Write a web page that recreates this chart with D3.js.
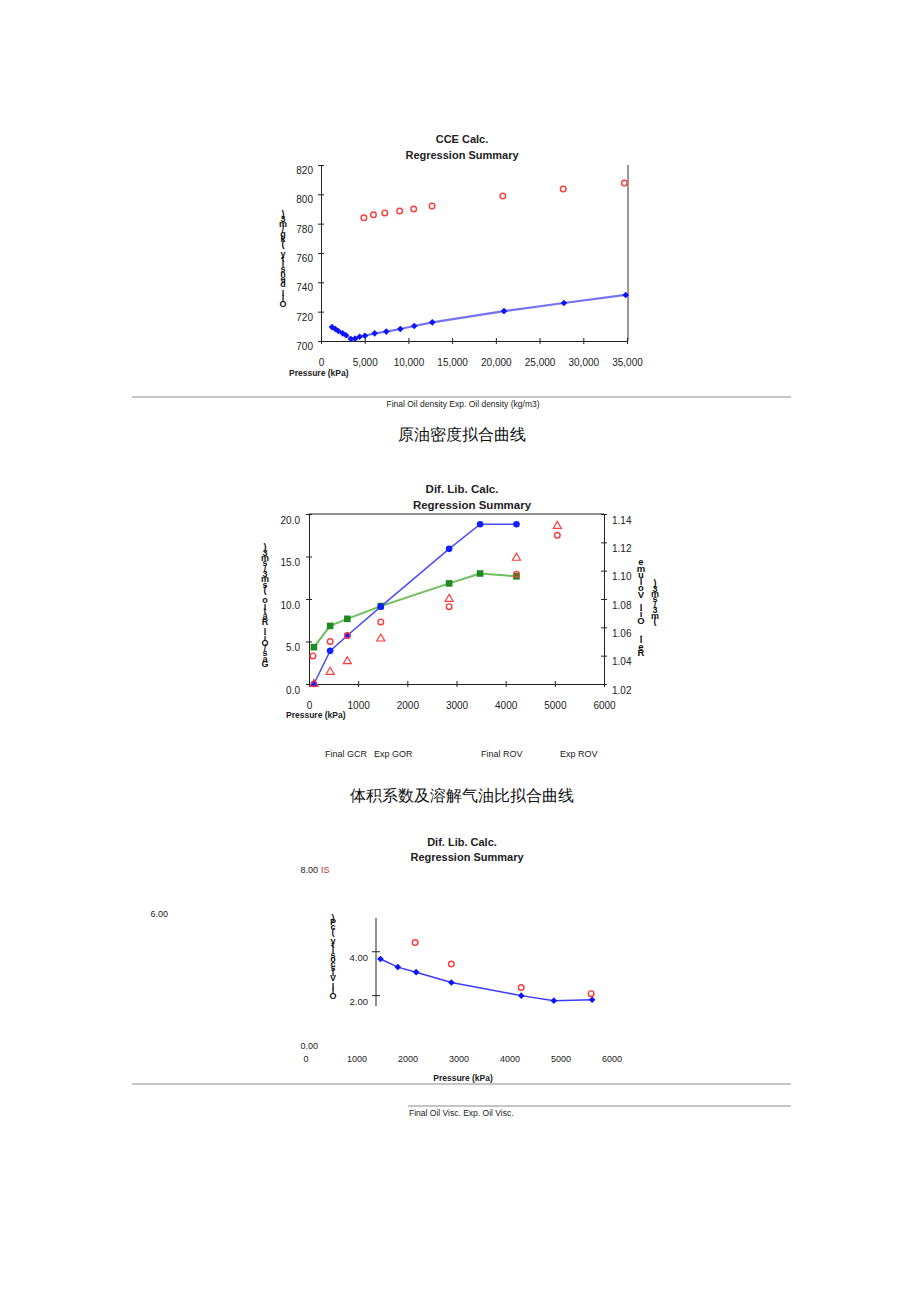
<!DOCTYPE html>
<html><head><meta charset="utf-8">
<script src="https://cdn.jsdelivr.net/npm/d3@7"></script>
<style>
body{margin:0;background:#fff}
svg{display:block}
text{font-family:"Liberation Sans",Arial,sans-serif;fill:#222}
</style>
</head><body>
<svg id="c" width="920" height="1302"></svg>
<script>
// ---------- DATA ----------
// Chart 1: CCE oil density
const cceCalcP = [1260,1640,1980,2480,2860,3430,3890,4420,5030,6140,7470,9070,10670,12730,20930,27790,34850];
const cceCalcD = [709.5,708.2,706.8,705.2,703.9,701.4,701.6,702.9,703.6,705.2,706.4,708.2,710.2,712.7,720.4,725.9,731.4];
const cceExpP = [4900,6000,7300,9000,10600,12700,20800,27700,34700];
const cceExpD = [784,786,787.3,788.6,790,792,798.8,803.6,807.7];
const cceXTicks = [0,5000,10000,15000,20000,25000,30000,35000];
const cceYTicks = [700,720,740,760,780,800,820];

// Chart 2: Dif. Lib. GOR / ROV
const difP = [100,430,780,1460,2850,3480,4220];
const finalGOR = [0,3.9,5.7,9.1,15.9,18.8,18.8];
const finalROV = [1.046,1.061,1.066,1.075,1.091,1.098,1.096];
const expGORP = [80,430,780,1460,2850,4220,5050];
const expGOR = [3.3,5.0,5.7,7.3,9.1,12.9,17.5];
const expROVP = [100,430,780,1460,2850,4220,5050];
const expROV = [1.02,1.0285,1.036,1.052,1.080,1.109,1.1315];
const difXTicks = [0,1000,2000,3000,4000,5000,6000];
const gorTicks = [0,5,10,15,20];
const rovTicks = [1.02,1.04,1.06,1.08,1.10,1.12,1.14];

// Chart 3: oil viscosity
const viscP = [1460,1800,2160,2850,4220,4860,5610];
const finalVisc = [3.67,3.30,3.07,2.60,2.0,1.77,1.81];
const expViscP = [2140,2850,4220,5590];
const expVisc = [4.42,3.44,2.37,2.09];
const viscXTicks = [0,1000,2000,3000,4000,5000,6000];
const viscAxisTicks = [2,4];

// ---------- HELPERS ----------
const svg = d3.select("#c");
const F = '"Liberation Sans",Arial,sans-serif';

function txt(x, y, s, size, opts = {}) {
  return svg.append("text").attr("x", x).attr("y", y).text(s)
    .attr("font-size", size)
    .attr("font-weight", opts.bold ? "bold" : null)
    .attr("text-anchor", opts.anchor || "start")
    .style("fill", opts.fill || "#222");
}
// upright stacked glyphs, reading bottom to top (as in the reference)
function vlabel(x, yBottom, s, step, size) {
  const chars = Array.from(s);
  chars.forEach((c, i) => {
    svg.append("text").attr("x", x).attr("y", yBottom - i * step).text(c)
      .attr("font-size", size).attr("font-weight", "bold")
      .attr("text-anchor", "middle").style("fill", "#111");
  });
}
function hline(x1, x2, y, color) {
  svg.append("line").attr("x1", x1).attr("x2", x2).attr("y1", y).attr("y2", y)
    .attr("stroke", color || "#888").attr("stroke-width", 1);
}
function vline(x, y1, y2, color) {
  svg.append("line").attr("x1", x).attr("x2", x).attr("y1", y1).attr("y2", y2)
    .attr("stroke", color || "#222").attr("stroke-width", 1);
}
function styleAxis(g, orient, size, dyText) {
  g.selectAll("path.domain").attr("stroke", "#222");
  g.selectAll(".tick line").attr("stroke", "#222");
  if (orient === "left" || orient === "right") {
    g.selectAll(".tick line").attr("x1", -3).attr("x2", 3);
  } else {
    g.selectAll(".tick line").attr("y1", -3).attr("y2", 3);
  }
  g.selectAll(".tick text").attr("font-size", size).attr("font-family", F).style("fill", "#222");
  if (dyText !== undefined) g.selectAll(".tick text").attr("dy", dyText);
}
function diamonds(data, x, y, color, size) {
  svg.append("g").selectAll("path").data(data).join("path")
    .attr("d", d3.symbol(d3.symbolSquare, size)())
    .attr("transform", d => `translate(${x(d[0])},${y(d[1])}) rotate(45)`)
    .attr("fill", color);
}
function openCircles(data, x, y, color) {
  svg.append("g").selectAll("circle").data(data).join("circle")
    .attr("cx", d => x(d[0])).attr("cy", d => y(d[1])).attr("r", 2.8)
    .attr("fill", "none").attr("stroke", color).attr("stroke-width", 1.4);
}
function linePath(data, x, y, color, w, op) {
  svg.append("path").datum(data)
    .attr("d", d3.line().x(d => x(d[0])).y(d => y(d[1])))
    .attr("fill", "none").attr("stroke", color).attr("stroke-width", w)
    .attr("stroke-opacity", op || 1);
}
const zip = (a, b) => a.map((v, i) => [v, b[i]]);

// ---------- CHART 1 ----------
{
  const x = d3.scaleLinear([0, 35000], [321, 627]);
  const y = d3.scaleLinear([700, 820], [341, 165]);
  txt(462, 143, "CCE Calc.", 11, {bold: true, anchor: "middle"});
  txt(462, 159, "Regression Summary", 11, {bold: true, anchor: "middle"});

  const gx = svg.append("g").attr("transform", "translate(0,341)")
    .call(d3.axisBottom(x).tickValues(cceXTicks).tickFormat(d3.format(",")).tickSize(3).tickSizeOuter(0).tickPadding(15));
  styleAxis(gx, "bottom", 10);
  const gy = svg.append("g").attr("transform", "translate(321,0)")
    .call(d3.axisLeft(y).tickValues(cceYTicks).tickSize(3).tickSizeOuter(0).tickPadding(5));
  styleAxis(gy, "left", 10, "0.86em");
  vline(628, 165, 341, "#333");

  vlabel(283, 307, "Oil density (kg/m3)", 5, 9);
  txt(289, 376, "Pressure (kPa)", 8.5, {bold: true});

  linePath(zip(cceCalcP, cceCalcD), x, y, "#5b5bf0", 2.2, 0.85);
  diamonds(zip(cceCalcP, cceCalcD), x, y, "#0a14ff", 22);
  openCircles(zip(cceExpP, cceExpD), x, y, "#ff3a3a");

  hline(132, 791, 397, "#8a8a8a");
  txt(463, 407, "Final Oil density Exp. Oil density (kg/m3)", 8.5, {anchor: "middle"});
  txt(462, 440, "原油密度拟合曲线", 16, {anchor: "middle"})
    .attr("font-family", '"Noto Sans CJK SC",sans-serif').style("fill", "#111");
}

// ---------- CHART 2 ----------
{
  const x = d3.scaleLinear([0, 6000], [309, 604]);
  const yL = d3.scaleLinear([0, 20], [684, 514]);
  const yR = d3.scaleLinear([1.02, 1.14], [684, 514]);
  txt(462, 493, "Dif. Lib. Calc.", 11.5, {bold: true, anchor: "middle"});
  txt(472, 509, "Regression Summary", 11.5, {bold: true, anchor: "middle"});

  hline(309, 604, 514, "#222");
  const gx = svg.append("g").attr("transform", "translate(0,684)")
    .call(d3.axisBottom(x).tickValues(difXTicks).tickFormat(d3.format("d")).tickSize(3).tickSizeOuter(0).tickPadding(15));
  styleAxis(gx, "bottom", 10);
  const gy = svg.append("g").attr("transform", "translate(309,0)")
    .call(d3.axisLeft(yL).tickValues(gorTicks).tickFormat(d3.format(".1f")).tickSize(3).tickSizeOuter(0).tickPadding(6));
  styleAxis(gy, "left", 10, "0.92em");
  const gr = svg.append("g").attr("transform", "translate(604,0)")
    .call(d3.axisRight(yR).tickValues(rovTicks).tickFormat(d3.format(".2f")).tickSize(3).tickSizeOuter(0).tickPadding(5));
  styleAxis(gr, "right", 10, "0.92em");

  vlabel(265, 667, "Gas/Oil Ratio (sm3/sm3)", 5.3, 9);
  vlabel(641, 656, "Rel. Oil Volume", 6.5, 9.5);
  vlabel(655, 624, "(m3/sm3)", 5.4, 9);
  txt(286, 718, "Pressure (kPa)", 8.5, {bold: true});

  linePath(zip(difP, finalROV), x, yR, "#6cbf5c", 2);
  linePath(zip(difP, finalGOR), x, yL, "#4a4aff", 1.5);
  svg.append("g").selectAll("rect").data(zip(difP, finalROV)).join("rect")
    .attr("x", d => x(d[0]) - 3.3).attr("y", d => yR(d[1]) - 3.3)
    .attr("width", 6.6).attr("height", 6.6).attr("fill", "#1f8a1f");
  svg.append("g").selectAll("circle").data(zip(difP, finalGOR)).join("circle")
    .attr("cx", d => x(d[0])).attr("cy", d => yL(d[1])).attr("r", 3.3).attr("fill", "#1020ff");
  openCircles(zip(expGORP, expGOR), x, yL, "#ff3a3a");
  svg.append("g").selectAll("path").data(zip(expROVP, expROV)).join("path")
    .attr("d", d3.symbol(d3.symbolTriangle, 28)())
    .attr("transform", d => `translate(${x(d[0])},${yR(d[1])})`)
    .attr("fill", "none").attr("stroke", "#ff3a3a").attr("stroke-width", 1.2);

  txt(325, 757, "Final GCR", 9);
  txt(374, 757, "Exp GOR", 9);
  txt(481, 757, "Final ROV", 9);
  txt(560, 757, "Exp ROV", 9);
  txt(462, 801, "体积系数及溶解气油比拟合曲线", 16.4, {anchor: "middle"})
    .attr("font-family", '"Noto Sans CJK SC",sans-serif').style("fill", "#111");
}

// ---------- CHART 3 ----------
{
  const x = d3.scaleLinear([0, 6000], [306, 612]);
  const y = d3.scaleLinear([0, 8], [1039.5, 864]);
  txt(462, 846, "Dif. Lib. Calc.", 11, {bold: true, anchor: "middle"});
  txt(467, 861, "Regression Summary", 11, {bold: true, anchor: "middle"});

  // stray tick labels of the garbled axis
  txt(318, y(8) + 9, "8.00", 9, {anchor: "end"});
  txt(321, y(8) + 9, "IS", 9, {fill: "#b33"});
  txt(168, y(6) + 9, "6.00", 9, {anchor: "end"});
  txt(318, y(0) + 9, "0.00", 9, {anchor: "end"});

  vline(376, 918, 1006, "#222");
  viscAxisTicks.forEach(t => {
    svg.append("line").attr("x1", 372).attr("x2", 380).attr("y1", y(t)).attr("y2", y(t))
      .attr("stroke", "#222");
    txt(368, y(t) + 9.5, d3.format(".2f")(t), 9.5, {anchor: "end"});
  });
  viscXTicks.forEach(t => txt(x(t), 1062, String(t), 9, {anchor: "middle"}));

  vlabel(333, 999, "Oil Viscosity (cP)", 4.6, 9);

  linePath(zip(viscP, finalVisc), x, y, "#3a3aff", 1.5);
  diamonds(zip(viscP, finalVisc), x, y, "#0a14ff", 22);
  openCircles(zip(expViscP, expVisc), x, y, "#ff3a3a");

  txt(463, 1081, "Pressure (kPa)", 8.5, {bold: true, anchor: "middle"});
  hline(132, 791, 1084, "#8a8a8a");
  hline(408, 791, 1106, "#8a8a8a");
  txt(409, 1116, "Final Oil Visc. Exp. Oil Visc.", 8.5);
}
</script>
</body></html>
